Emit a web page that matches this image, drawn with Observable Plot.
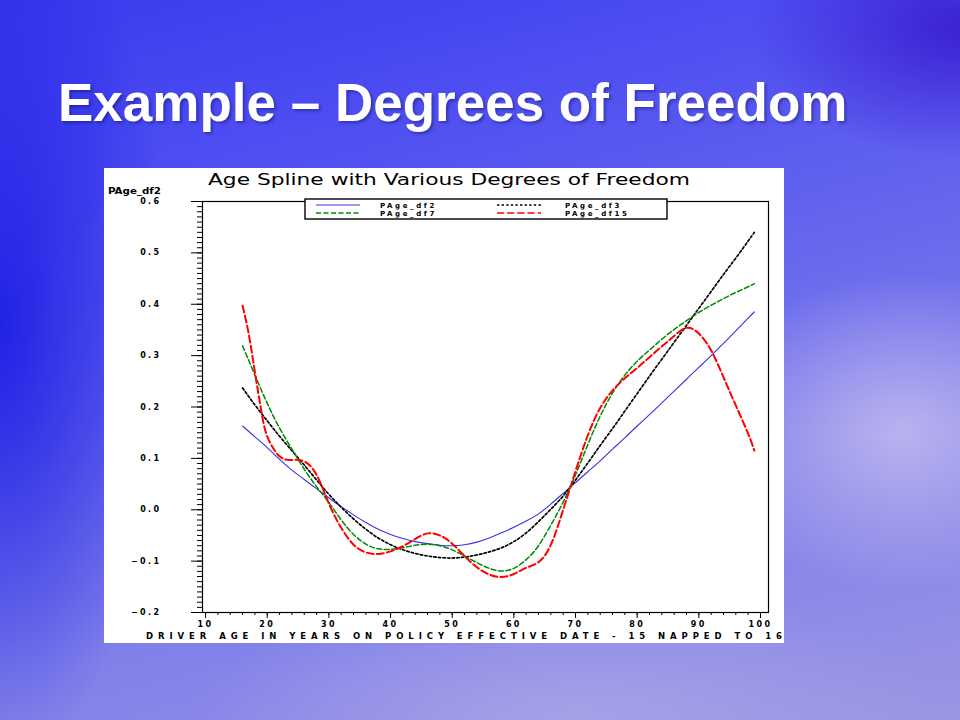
<!DOCTYPE html>
<html>
<head>
<meta charset="utf-8">
<script src="https://cdn.jsdelivr.net/npm/d3@7"></script>
<script src="https://cdn.jsdelivr.net/npm/@observablehq/plot@0.6"></script>
<style>
  html, body { margin: 0; padding: 0; }
  body {
    width: 960px; height: 720px; overflow: hidden; position: relative;
    background:
      radial-gradient(ellipse 22% 22% at 94% 60%, rgba(200,192,240,0.8), rgba(200,192,240,0) 100%),
      radial-gradient(ellipse 40% 18% at 60% 100%, rgba(170,165,232,0.85), rgba(170,165,232,0) 100%),
      radial-gradient(ellipse 18% 60% at 0% 45%, rgba(28,28,228,0.9), rgba(28,28,228,0) 100%),
      radial-gradient(ellipse 22% 18% at 100% 4%, rgba(55,25,205,0.85), rgba(55,25,205,0) 100%),
      linear-gradient(165deg, #3a3aee 0%, #4e4ef2 22%, #6464ee 45%, #8080ea 70%, #9a96e4 100%);
  }
  #title {
    position: absolute; left: 58px; top: 72px;
    font-family: "Liberation Sans", Arial, sans-serif; font-weight: bold;
    font-size: 53px; color: white; white-space: nowrap;
    text-shadow: 2px 2px 3px rgba(0,0,60,0.35);
  }
  #chart { position: absolute; left: 104px; top: 168px; }
</style>
</head>
<body>
<div id="title">Example – Degrees of Freedom</div>
<div id="chart"></div>
<script>
// ---- Data ----
const chartTitle = "Age Spline with Various Degrees of Freedom";
const yAxisLabel = "PAge_df2";
const xAxisLabel = "DRIVER AGE IN YEARS ON POLICY EFFECTIVE DATE - 15 NAPPED TO 16";
const seriesNames = ["PAge_df2", "PAge_df3", "PAge_df7", "PAge_df15"];

const xTicks = [10, 20, 30, 40, 50, 60, 70, 80, 90, 100];
const yTicks = [-0.2, -0.1, 0.0, 0.1, 0.2, 0.3, 0.4, 0.5, 0.6];

const ages = [16,18,20,22,24,26,28,30,32,34,36,38,40,42,44,46,48,50,52,54,56,58,60,62,64,66,68,70,72,74,76,78,80,82,84,86,88,90,92,94,96,98,99];

const df2 = [0.163,0.142,0.121,0.098,0.077,0.059,0.041,0.023,0.006,-0.010,-0.025,-0.038,-0.048,-0.056,-0.062,-0.066,-0.069,-0.070,-0.068,-0.063,-0.055,-0.045,-0.034,-0.022,-0.008,0.011,0.032,0.053,0.074,0.095,0.118,0.140,0.163,0.185,0.208,0.231,0.254,0.277,0.300,0.324,0.348,0.373,0.385];

const df3 = [0.237,0.204,0.173,0.143,0.115,0.087,0.058,0.030,0.005,-0.018,-0.038,-0.055,-0.068,-0.078,-0.085,-0.090,-0.093,-0.094,-0.092,-0.088,-0.082,-0.074,-0.062,-0.045,-0.023,0.001,0.027,0.058,0.091,0.125,0.158,0.192,0.226,0.260,0.293,0.326,0.359,0.392,0.425,0.458,0.490,0.523,0.540];

const df7 = [0.319,0.262,0.207,0.159,0.118,0.079,0.045,0.014,-0.020,-0.048,-0.067,-0.076,-0.077,-0.074,-0.069,-0.067,-0.070,-0.078,-0.090,-0.103,-0.114,-0.119,-0.114,-0.097,-0.070,-0.030,0.015,0.068,0.127,0.182,0.227,0.262,0.289,0.311,0.332,0.351,0.368,0.384,0.398,0.411,0.423,0.434,0.440];

const agesDf15 = [16,17,18,19,20,22,24,26,28,30,32,34,36,38,40,42,44,46,48,50,52,54,56,58,60,62,64,66,68,70,72,74,76,78,80,82,84,86,88,90,92,94,96,98,99];
const df15 = [0.397,0.342,0.268,0.195,0.143,0.104,0.097,0.094,0.068,0.012,-0.035,-0.068,-0.083,-0.086,-0.081,-0.071,-0.057,-0.046,-0.050,-0.066,-0.090,-0.112,-0.126,-0.131,-0.125,-0.113,-0.102,-0.068,0.000,0.075,0.145,0.198,0.232,0.256,0.276,0.297,0.318,0.338,0.354,0.343,0.310,0.258,0.203,0.148,0.115];

// ---- Build tables ----
const toRows = (xs, ys, name) => xs.map((a, i) => ({age: a, value: ys[i], series: name}));
const rows2 = toRows(ages, df2, seriesNames[0]);
const rows3 = toRows(ages, df3, seriesNames[1]);
const rows7 = toRows(ages, df7, seriesNames[2]);
const rows15 = toRows(agesDf15, df15, seriesNames[3]);

const styles = {
  "PAge_df2": {stroke: "#3434e0", strokeWidth: 1.1, strokeDasharray: null},
  "PAge_df3": {stroke: "#000000", strokeWidth: 1.7, strokeDasharray: "2.4,2.2"},
  "PAge_df7": {stroke: "#008a00", strokeWidth: 1.5, strokeDasharray: "5,2.5"},
  "PAge_df15": {stroke: "#ff0000", strokeWidth: 2, strokeDasharray: "7,3.2"}
};

const minorY = d3.range(-20, 61).map(d => d / 100);
const minorX = d3.range(10, 101, 2);

const lineMark = (data, name) => Plot.line(data, {
  x: "age", y: "value", curve: "natural",
  stroke: styles[name].stroke, strokeWidth: styles[name].strokeWidth,
  strokeDasharray: styles[name].strokeDasharray
});

const plot = Plot.plot({
  width: 680, height: 475,
  marginLeft: 98, marginRight: 16, marginTop: 33, marginBottom: 31,
  style: {background: "white", fontFamily: "DejaVu Sans, sans-serif", fontSize: "8px", color: "black", letterSpacing: "2.4px", overflow: "visible"},
  x: {domain: [9.5, 101.3]},
  y: {domain: [-0.2, 0.6]},
  marks: [
    Plot.axisY({ticks: minorY, tickSize: 5, tickFormat: () => "", label: null, strokeWidth: 1}),
    Plot.axisY({ticks: yTicks, tickSize: 11, tickPadding: 30, tickFormat: d3.format(".1f"), label: null, fontWeight: "bold"}),
    Plot.axisX({ticks: minorX, tickSize: 3, tickFormat: () => "", label: null}),
    Plot.axisX({ticks: xTicks, tickSize: 6, tickPadding: 3, tickFormat: d3.format("d"), label: null, fontWeight: "bold"}),
    lineMark(rows2, "PAge_df2"),
    lineMark(rows3, "PAge_df3"),
    lineMark(rows7, "PAge_df7"),
    lineMark(rows15, "PAge_df15"),
    Plot.frame({stroke: "black", strokeWidth: 1.2})
  ]
});

document.getElementById("chart").appendChild(plot);

// ---- Titles, labels and legend added to the same SVG ----
const svg = d3.select(plot);

svg.append("text")
  .attr("x", 345).attr("y", 17)
  .attr("text-anchor", "middle")
  .attr("textLength", 482).attr("lengthAdjust", "spacingAndGlyphs")
  .style("letter-spacing", "0px")
  .style("font-size", "15px").style("font-family", "DejaVu Sans, sans-serif")
  .text(chartTitle);

svg.append("text")
  .attr("x", 4).attr("y", 26)
  .attr("text-anchor", "start")
  .attr("textLength", 53).attr("lengthAdjust", "spacingAndGlyphs")
  .style("letter-spacing", "0px")
  .style("font-size", "8px").style("font-weight", "bold")
  .text(yAxisLabel);

svg.append("text")
  .attr("x", 42).attr("y", 471)
  .attr("text-anchor", "start")
  .attr("textLength", 636).attr("lengthAdjust", "spacing")
  .style("letter-spacing", "0px")
  .style("font-size", "8.5px").style("font-weight", "bold")
  .text(xAxisLabel);

// legend
const lg = svg.append("g");
lg.append("rect").attr("x", 201).attr("y", 31).attr("width", 362).attr("height", 20)
  .attr("fill", "white").attr("stroke", "black").attr("stroke-width", 1.4);
const legendItems = [
  {name: seriesNames[0], lx: 212, tx: 276, y: 37},
  {name: seriesNames[1], lx: 393, tx: 461, y: 37},
  {name: seriesNames[2], lx: 212, tx: 276, y: 45},
  {name: seriesNames[3], lx: 393, tx: 461, y: 45}
];
legendItems.forEach(it => {
  const s = styles[it.name];
  lg.append("line").attr("x1", it.lx).attr("x2", it.lx + 44).attr("y1", it.y).attr("y2", it.y)
    .attr("stroke", s.stroke).attr("stroke-width", Math.min(s.strokeWidth, 1.3))
    .attr("stroke-dasharray", s.strokeDasharray);
  lg.append("text").attr("x", it.tx).attr("y", it.y + 2.5)
    .attr("text-anchor", "start")
    .style("font-size", "7px").style("font-weight", "bold").style("letter-spacing", "2.6px")
    .text(it.name);
});
</script>
</body>
</html>
